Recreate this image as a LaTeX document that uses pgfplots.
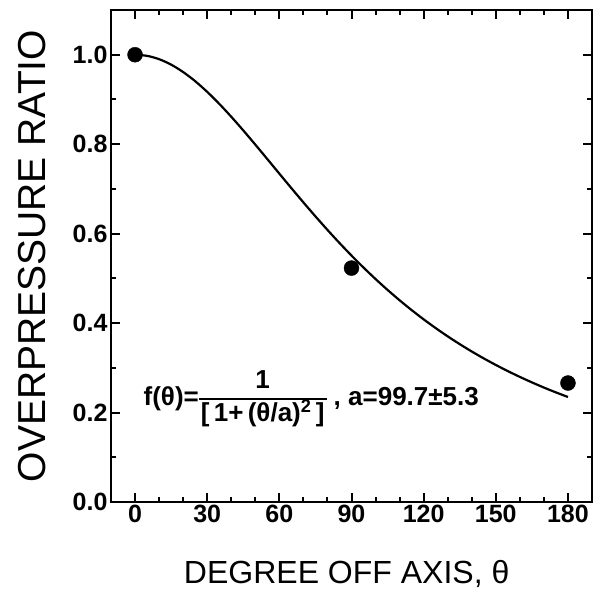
\documentclass[border=0pt]{standalone}
\usepackage{fontspec}
\setmainfont{Liberation Sans}
\usepackage{pgfplots}
\pgfplotsset{compat=1.18}
\begin{document}
\begin{tikzpicture}
\begin{axis}[
  scale only axis, width=481bp, height=492bp,
  xmin=-10, xmax=190, ymin=0, ymax=1.1,
  xtick={0,30,60,90,120,150,180}, ytick={0,0.2,0.4,0.6,0.8,1.0},
  minor x tick num=2, minor y tick num=1,
  tick align=inside, major tick length=9bp, minor tick length=5bp,
  every tick/.style={line width=2bp, black},
  axis line style={line width=2.5bp},
  /pgf/number format/assume math mode=true,
  ticklabel style={font=\bfseries\fontsize{25bp}{28bp}\selectfont},
  y tick label style={/pgf/number format/fixed, /pgf/number format/fixed zerofill, /pgf/number format/precision=1},
  xlabel={DEGREE OFF AXIS, θ}, ylabel={OVERPRESSURE RATIO},
  xlabel style={font=\fontsize{32bp}{36bp}\selectfont, at={(axis description cs:0.49,-0.165)}, anchor=base},
  ylabel style={font=\fontsize{39bp}{44bp}\selectfont, at={(axis description cs:-0.137,0.5)}, anchor=base},
]
% fitted curve f = 1/(1+(theta/99.7)^2), values typed in
\addplot[black, line width=2.2bp, smooth, no marks] coordinates {
  (0,1.0) (5,0.99749) (10,0.99004) (15,0.97787) (20,0.96131) (25,0.94084)
  (30,0.91697) (35,0.89028) (40,0.86135) (45,0.83076) (50,0.79904) (55,0.76668)
  (60,0.73412) (65,0.70173) (70,0.66982) (75,0.63862) (80,0.60833) (85,0.57909)
  (90,0.55100) (95,0.52413) (100,0.49850) (105,0.47413) (110,0.45100) (115,0.42910)
  (120,0.40838) (125,0.38882) (130,0.37034) (135,0.35292) (140,0.33650) (145,0.32101)
  (150,0.30641) (155,0.29266) (160,0.27969) (165,0.26746) (170,0.25586) (175,0.24504)
  (180,0.23477)
};
% measured points
\addplot[only marks, mark=*, mark size=7.5bp, black] coordinates {
  (0,1.0) (90,0.523) (180,0.266)
};
\node[anchor=west, inner sep=0pt, font=\bfseries\fontsize{26bp}{30bp}\selectfont]
  at (axis cs:3.5,0.23)
  {f(θ)=\renewcommand{\arraystretch}{1.05}\setlength{\arrayrulewidth}{1.5bp}%
   \begin{tabular}{@{\hspace{2bp}}c@{\hspace{2bp}}}1\\\hline[\,1+\,(θ/a)\textsuperscript{2}\,]\end{tabular} , a=99.7±5.3};
\end{axis}
\pgfresetboundingbox
\path[use as bounding box] (-111bp,-87bp) rectangle (485bp,502bp);
\end{tikzpicture}
\end{document}
